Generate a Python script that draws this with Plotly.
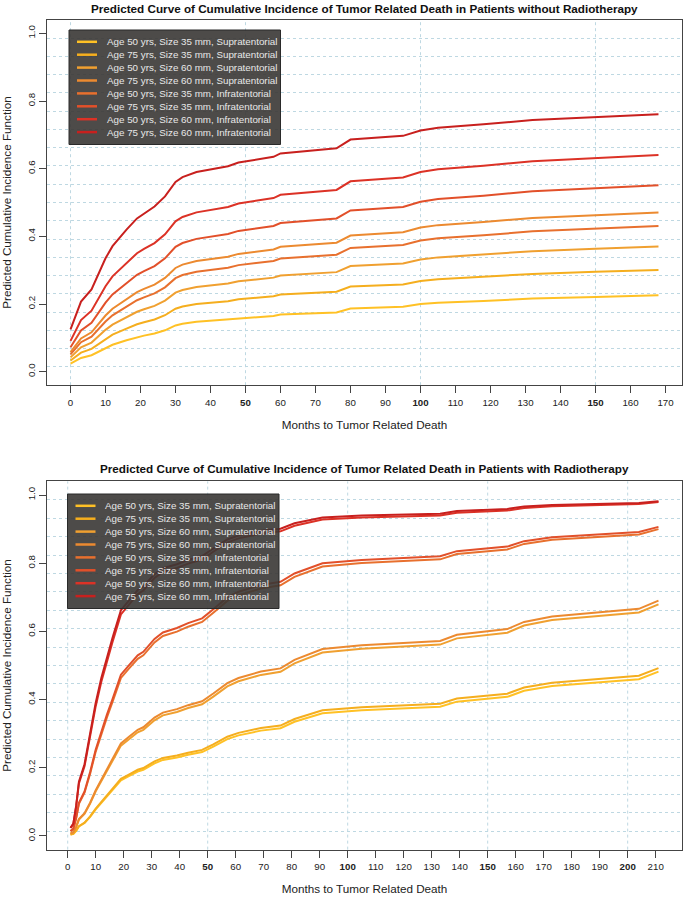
import plotly.graph_objects as go

# ---------------- data ----------------
labels = [
    "Age 50 yrs, Size 35 mm, Supratentorial",
    "Age 75 yrs, Size 35 mm, Supratentorial",
    "Age 50 yrs, Size 60 mm, Supratentorial",
    "Age 75 yrs, Size 60 mm, Supratentorial",
    "Age 50 yrs, Size 35 mm, Infratentorial",
    "Age 75 yrs, Size 35 mm, Infratentorial",
    "Age 50 yrs, Size 60 mm, Infratentorial",
    "Age 75 yrs, Size 60 mm, Infratentorial",
]
colors = ["#FFC125", "#F5AE1E", "#F0A030", "#EC8A30", "#E8702E", "#E2502A", "#DC3226", "#C8201E"]

# Panel 1: without radiotherapy
months_top = [0, 1, 3, 6, 8, 10, 12, 16, 19, 21, 24, 27, 30, 32, 36, 45, 48, 58, 60, 76, 80, 95, 100, 105, 118, 132, 150, 168]
top_a50_s35_supra = [0.0236, 0.0292, 0.0406, 0.0485, 0.0593, 0.0703, 0.0795, 0.0927, 0.1021, 0.1066, 0.1127, 0.1222, 0.1367, 0.1417, 0.1472, 0.1536, 0.1579, 0.1647, 0.1689, 0.1752, 0.1869, 0.1920, 0.1998, 0.2038, 0.2090, 0.2160, 0.2210, 0.2256]
top_a75_s35_supra = [0.0328, 0.0407, 0.0563, 0.0672, 0.0821, 0.0970, 0.1094, 0.1273, 0.1400, 0.1460, 0.1541, 0.1668, 0.1860, 0.1926, 0.1998, 0.2082, 0.2138, 0.2227, 0.2281, 0.2364, 0.2514, 0.2580, 0.2681, 0.2733, 0.2799, 0.2887, 0.2951, 0.3008]
top_a50_s60_supra = [0.0422, 0.0522, 0.0722, 0.0860, 0.1047, 0.1235, 0.1391, 0.1613, 0.1771, 0.1844, 0.1945, 0.2100, 0.2335, 0.2415, 0.2503, 0.2604, 0.2672, 0.2779, 0.2843, 0.2942, 0.3121, 0.3200, 0.3318, 0.3378, 0.3456, 0.3560, 0.3634, 0.3702]
top_a75_s60_supra = [0.0576, 0.0712, 0.0980, 0.1164, 0.1413, 0.1659, 0.1862, 0.2151, 0.2353, 0.2447, 0.2574, 0.2771, 0.3065, 0.3164, 0.3273, 0.3398, 0.3481, 0.3612, 0.3690, 0.3810, 0.4025, 0.4119, 0.4259, 0.4331, 0.4422, 0.4544, 0.4630, 0.4708]
top_a50_s35_infra = [0.0511, 0.0632, 0.0871, 0.1036, 0.1259, 0.1481, 0.1666, 0.1927, 0.2111, 0.2196, 0.2313, 0.2493, 0.2764, 0.2856, 0.2956, 0.3072, 0.3149, 0.3271, 0.3344, 0.3455, 0.3657, 0.3745, 0.3877, 0.3945, 0.4031, 0.4147, 0.4228, 0.4302]
top_a75_s35_infra = [0.0719, 0.0887, 0.1216, 0.1441, 0.1743, 0.2039, 0.2283, 0.2625, 0.2862, 0.2973, 0.3121, 0.3350, 0.3689, 0.3802, 0.3925, 0.4067, 0.4161, 0.4307, 0.4395, 0.4529, 0.4767, 0.4870, 0.5023, 0.5101, 0.5200, 0.5331, 0.5424, 0.5507]
top_a50_s60_infra = [0.0909, 0.1118, 0.1526, 0.1803, 0.2170, 0.2527, 0.2818, 0.3222, 0.3500, 0.3628, 0.3799, 0.4061, 0.4445, 0.4572, 0.4709, 0.4867, 0.4970, 0.5131, 0.5226, 0.5371, 0.5627, 0.5737, 0.5899, 0.5980, 0.6084, 0.6220, 0.6315, 0.6401]
top_a75_s60_infra = [0.125, 0.153, 0.207, 0.243, 0.290, 0.335, 0.371, 0.420, 0.453, 0.468, 0.488, 0.518, 0.561, 0.575, 0.590, 0.607, 0.618, 0.635, 0.645, 0.660, 0.686, 0.697, 0.713, 0.721, 0.731, 0.744, 0.753, 0.761]

# Panel 2: with radiotherapy
months_bot = [1, 2, 3, 4, 6, 8, 10, 12, 14, 16, 19, 22, 25, 27, 31, 34, 39, 43, 48, 52, 57, 61, 69, 76, 81, 91, 105, 133, 139, 157, 163, 173, 204, 211]
bot_a50_s35_supra = [0.004, 0.006, 0.015, 0.028, 0.038, 0.056, 0.078, 0.097, 0.115, 0.133, 0.163, 0.176, 0.189, 0.194, 0.213, 0.223, 0.230, 0.238, 0.246, 0.262, 0.284, 0.295, 0.309, 0.316, 0.335, 0.360, 0.369, 0.379, 0.394, 0.408, 0.426, 0.440, 0.460, 0.482]
bot_a75_s35_supra = [0.0041, 0.0062, 0.0154, 0.0288, 0.0391, 0.0576, 0.0802, 0.0998, 0.1182, 0.1367, 0.1675, 0.1808, 0.1941, 0.1992, 0.2187, 0.2289, 0.2360, 0.2442, 0.2524, 0.2687, 0.2912, 0.3024, 0.3167, 0.3238, 0.3431, 0.3686, 0.3777, 0.3879, 0.4031, 0.4173, 0.4356, 0.4497, 0.4700, 0.4922]
bot_a50_s60_supra = [0.0069, 0.0104, 0.0258, 0.0479, 0.0648, 0.0949, 0.1311, 0.1618, 0.1905, 0.2188, 0.2650, 0.2846, 0.3040, 0.3114, 0.3392, 0.3537, 0.3637, 0.3751, 0.3864, 0.4088, 0.4389, 0.4539, 0.4724, 0.4816, 0.5063, 0.5380, 0.5491, 0.5614, 0.5796, 0.5962, 0.6173, 0.6333, 0.6556, 0.6795]
bot_a75_s60_supra = [0.0071, 0.0107, 0.0266, 0.0493, 0.0666, 0.0975, 0.1346, 0.1661, 0.1954, 0.2244, 0.2715, 0.2915, 0.3113, 0.3188, 0.3472, 0.3619, 0.3720, 0.3836, 0.3950, 0.4178, 0.4483, 0.4634, 0.4822, 0.4915, 0.5164, 0.5483, 0.5595, 0.5719, 0.5902, 0.6068, 0.6279, 0.6439, 0.6662, 0.6901]
bot_a50_s35_infra = [0.0139, 0.0208, 0.0515, 0.0946, 0.1268, 0.1827, 0.2474, 0.3003, 0.3479, 0.3932, 0.4636, 0.4921, 0.5196, 0.5299, 0.5676, 0.5865, 0.5994, 0.6138, 0.6277, 0.6547, 0.6894, 0.7059, 0.7257, 0.7353, 0.7602, 0.7903, 0.8004, 0.8113, 0.8268, 0.8404, 0.8567, 0.8686, 0.8843, 0.9000]
bot_a75_s35_infra = [0.0143, 0.0214, 0.0530, 0.0972, 0.1302, 0.1874, 0.2535, 0.3074, 0.3559, 0.4018, 0.4731, 0.5020, 0.5297, 0.5401, 0.5779, 0.5969, 0.6099, 0.6243, 0.6382, 0.6652, 0.6998, 0.7162, 0.7359, 0.7454, 0.7700, 0.7997, 0.8096, 0.8203, 0.8354, 0.8487, 0.8647, 0.8762, 0.8914, 0.9066]
bot_a50_s60_infra = [0.0234, 0.0349, 0.0853, 0.1543, 0.2043, 0.2882, 0.3807, 0.4523, 0.5136, 0.5692, 0.6500, 0.6809, 0.7095, 0.7199, 0.7566, 0.7743, 0.7861, 0.7989, 0.8109, 0.8335, 0.8607, 0.8729, 0.8870, 0.8936, 0.9099, 0.9281, 0.9339, 0.9398, 0.9479, 0.9546, 0.9622, 0.9673, 0.9736, 0.9794]
bot_a75_s60_infra = [0.0242, 0.0360, 0.0881, 0.1591, 0.2105, 0.2964, 0.3907, 0.4633, 0.5254, 0.5813, 0.6623, 0.6930, 0.7214, 0.7317, 0.7680, 0.7854, 0.7970, 0.8095, 0.8213, 0.8433, 0.8697, 0.8815, 0.8951, 0.9014, 0.9170, 0.9343, 0.9397, 0.9453, 0.9529, 0.9592, 0.9662, 0.9709, 0.9767, 0.9819]

x_ticks_top = list(range(0, 171, 10))
x_ticks_bot = list(range(0, 211, 10))
y_ticks = [0.0, 0.2, 0.4, 0.6, 0.8, 1.0]
y_tick_labels = ["0.0", "0.2", "0.4", "0.6", "0.8", "1.0"]

title_top = "Predicted Curve of Cumulative Incidence of Tumor Related Death in Patients without Radiotherapy"
title_bot = "Predicted Curve of Cumulative Incidence of Tumor Related Death in Patients with Radiotherapy"
x_title = "Months to Tumor Related Death"
y_title = "Predicted Cumulative Incidence Function"

top_series = [top_a50_s35_supra, top_a75_s35_supra, top_a50_s60_supra, top_a75_s60_supra,
              top_a50_s35_infra, top_a75_s35_infra, top_a50_s60_infra, top_a75_s60_infra]
bot_series = [bot_a50_s35_supra, bot_a75_s35_supra, bot_a50_s60_supra, bot_a75_s60_supra,
              bot_a50_s35_infra, bot_a75_s35_infra, bot_a50_s60_infra, bot_a75_s60_infra]

# ---------------- layout helpers ----------------
W, H = 685, 897
FONT = "Liberation Sans, Arial, Helvetica, sans-serif"
GRID = "rgb(190,216,226)"
AXC = "#444444"


def px(x):
    return x / W


def py(y):
    return 1 - y / H


X_DOM = [px(47), px(682)]
TOP_DOM = [py(385.2), py(19.8)]
BOT_DOM = [py(849.6), py(481.4)]

fig = go.Figure()

for lab, col, ys in zip(labels, colors, top_series):
    fig.add_trace(go.Scatter(x=months_top, y=ys, mode="lines", name=lab,
                             line=dict(color=col, width=2), showlegend=False,
                             xaxis="x", yaxis="y"))
for lab, col, ys in zip(labels, colors, bot_series):
    fig.add_trace(go.Scatter(x=months_bot, y=ys, mode="lines", name=lab,
                             line=dict(color=col, width=2), showlegend=False,
                             xaxis="x2", yaxis="y2"))


def bold50(v):
    return f"<b>{v}</b>" if v % 50 == 0 and v > 0 else str(v)


def xaxis_cfg(dom, anchor, rng, ticks):
    return dict(domain=dom, anchor=anchor, range=rng, tickmode="array",
                tickvals=ticks, ticktext=[bold50(v) for v in ticks],
                ticks="outside", ticklen=7, tickcolor=AXC, tickwidth=1,
                showline=True, mirror=True, linecolor=AXC, linewidth=1,
                showgrid=False, zeroline=False, automargin=False,
                minor=dict(showgrid=False, ticks=""),
                tickfont=dict(family=FONT, size=9.7, color="#222"),
                ticklabelstandoff=1,
                title=dict(text=x_title, standoff=13,
                           font=dict(family=FONT, size=11.7, color="#222")))


ygrid = [-0.04 + 1.08 * k / 20 for k in range(1, 20)]


def yaxis_cfg(dom, anchor):
    return dict(domain=dom, anchor=anchor, range=[-0.04, 1.04], tickmode="array",
                tickvals=y_ticks, ticktext=y_tick_labels, tickangle=-90,
                ticks="outside", ticklen=7, tickcolor=AXC, tickwidth=1,
                showline=True, mirror=True, linecolor=AXC, linewidth=1,
                showgrid=False, zeroline=False, automargin=False,
                tickfont=dict(family=FONT, size=9.7, color="#222"),
                ticklabelstandoff=0,
                minor=dict(tickmode="array", tickvals=ygrid, showgrid=True,
                           gridcolor=GRID, griddash="dot", gridwidth=1, ticks=""),
                title=dict(text=y_title, standoff=13,
                           font=dict(family=FONT, size=11.7, color="#222")))


fig.update_layout(
    width=W, height=H,
    margin=dict(l=0, r=0, t=0, b=0, pad=0, autoexpand=False),
    paper_bgcolor="white", plot_bgcolor="white",
    font=dict(family=FONT, color="#222"),
    showlegend=False,
    xaxis=xaxis_cfg(X_DOM, "y", [-6.72, 174.72], x_ticks_top),
    yaxis=yaxis_cfg(TOP_DOM, "x"),
    xaxis2=xaxis_cfg(X_DOM, "y2", [-7.4, 219.4], x_ticks_bot),
    yaxis2=yaxis_cfg(BOT_DOM, "x2"),
)

# vertical dotted grid lines every 50 months
for xr, yr, xmax in (("x", "y domain", 170), ("x2", "y2 domain", 210)):
    for v in range(0, xmax + 1, 50):
        fig.add_shape(type="line", xref=xr, yref=yr, x0=v, x1=v, y0=0, y1=1,
                      line=dict(color=GRID, width=1, dash="dot"), layer="below")

# titles
for t, ypx in ((title_top, 8), (title_bot, 468)):
    fig.add_annotation(text=f"<b>{t}</b>", xref="paper", yref="paper",
                       x=px((47 + 682) / 2), y=py(ypx), xanchor="center", yanchor="middle",
                       showarrow=False, font=dict(family=FONT, size=11.7, color="#111"))


# legend boxes (built from labels / colors)
def add_legend(left, top):
    w, h, step, first = 211.5, 114.5, 12.9, 11.8
    fig.add_shape(type="rect", xref="paper", yref="paper",
                  x0=px(left), x1=px(left + w), y0=py(top + h), y1=py(top),
                  fillcolor="rgba(58,55,53,0.9)", line=dict(color="#2a2a2a", width=1),
                  layer="above")
    for i, (lab, col) in enumerate(zip(labels, colors)):
        yy = top + first + step * i
        fig.add_shape(type="line", xref="paper", yref="paper",
                      x0=px(left + 8), x1=px(left + 28), y0=py(yy), y1=py(yy),
                      line=dict(color=col, width=2.5), layer="above")
        fig.add_annotation(text=lab, xref="paper", yref="paper",
                           x=px(left + 35.5), y=py(yy), xanchor="left", yanchor="middle",
                           showarrow=False,
                           font=dict(family=FONT, size=9.8, color="#E8E8E8"))


add_legend(69, 30)
add_legend(67.5, 494)

fig.write_html("out.html", config={"displayModeBar": False, "staticPlot": True},
               post_script="document.body.style.margin='0';document.body.style.overflow='hidden';")
